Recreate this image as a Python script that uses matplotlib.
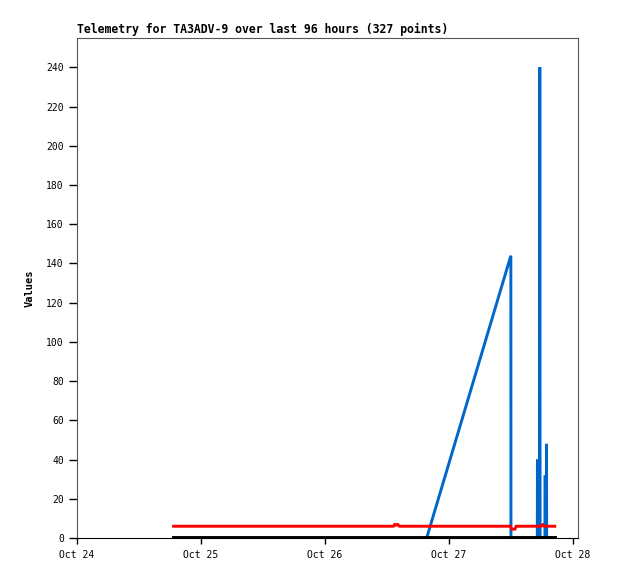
import numpy as np
import matplotlib
matplotlib.use('Agg')
import matplotlib.pyplot as plt
import matplotlib.dates as mdates
from datetime import datetime, timedelta

t0 = datetime(2024, 10, 24)

# hours after Oct 24 00:00
red_h = [18.7, 61.3, 61.5, 61.8, 62.1, 62.4, 83.9, 84.2, 84.8, 85.0, 89.9, 90.2, 90.4, 92.5]
red_v = [6.0, 6.0, 7.0, 6.5, 7.0, 6.0, 6.0, 4.5, 4.5, 6.0, 6.0, 7.0, 6.0, 6.0]

blue_h = [67.7, 84.0, 84.02, 89.12, 89.15, 89.18, 89.58, 89.6, 89.63, 90.62, 90.65, 90.68, 90.88, 90.9, 90.93, 92.5]
blue_v = [0, 144, 0, 0, 40, 0, 0, 240, 0, 0, 32, 0, 0, 48, 0, 0]

black_h = [18.7, 92.5]
black_v = [0, 0]

title = 'Telemetry for TA3ADV-9 over last 96 hours (327 points)'
mono = 'DejaVu Sans Mono'


def to_dates(hours):
    return [t0 + timedelta(hours=h) for h in hours]


fig = plt.figure(figsize=(6.18, 5.79), dpi=100)
ax = fig.add_axes([77 / 618, 41 / 579, 501 / 618, 500 / 579])

ax.plot(to_dates(blue_h), blue_v, color='#0066cc', lw=2.1, solid_joinstyle='miter')
ax.plot(to_dates(red_h), red_v, color='#ff0000', lw=2.1)
ax.plot(to_dates(black_h), black_v, color='#000000', lw=2.8)

ax.set_xlim(t0, t0 + timedelta(hours=97))
ax.set_ylim(0, 255)
ax.xaxis.set_major_locator(mdates.DayLocator())
ax.xaxis.set_major_formatter(mdates.DateFormatter('%b %d'))
ax.set_yticks(np.arange(0, 241, 20))

for s in ['top', 'right', 'left']:
    ax.spines[s].set_color('#555555')
ax.spines['bottom'].set_color('#000000')
ax.tick_params(axis='x', direction='out', length=4.5, width=1, labelsize=7, pad=4)
ax.tick_params(axis='y', direction='out', length=5.5, width=1, labelsize=7, pad=4)
for lab in ax.get_xticklabels() + ax.get_yticklabels():
    lab.set_family(mono)

ax.set_ylabel('Values', family=mono, fontsize=7.5, fontweight='bold', labelpad=8)
fig.text(77 / 618, 1 - 33 / 579, title, family=mono, fontsize=8.3, fontweight='bold',
         ha='left', va='baseline')

fig.savefig('out.png', dpi=100)
